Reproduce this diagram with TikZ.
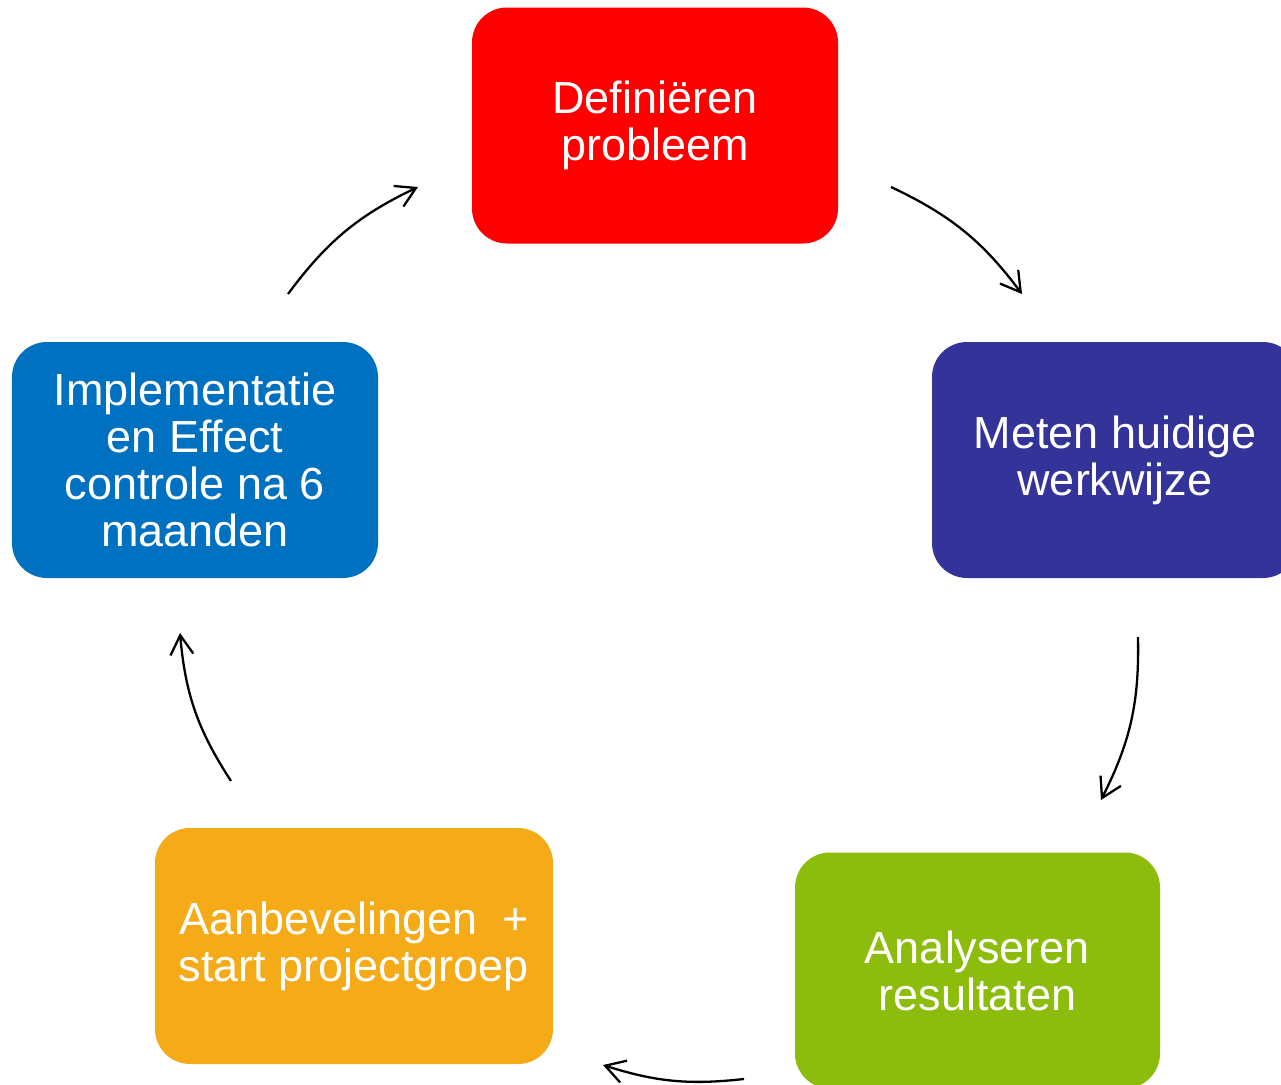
\documentclass[tikz,border=0pt]{standalone}
\usepackage{fontspec}
\setmainfont{Liberation Sans}
\usetikzlibrary{arrows.meta}
\definecolor{stapred}{HTML}{FF0000}
\definecolor{stappurple}{HTML}{333399}
\definecolor{stapgreen}{HTML}{8CBC0C}
\definecolor{staporange}{HTML}{F5AB18}
\definecolor{stapblue}{HTML}{0070C0}
\begin{document}
\begin{tikzpicture}[
    stap/.style={rounded corners=0.35cm,minimum width=3.66cm,minimum height=2.36cm,
      inner sep=0pt,text=white,align=center,font=\fontsize{12.8}{13.4}\selectfont}]
      \clip (0,0) rectangle (12.81,-10.85);
      \draw
        (6.55,-1.255) node[stap,fill=stapred] (def){Definiëren\\probleem}
        (11.15,-4.60) node[stap,fill=stappurple] (meten){Meten huidige\\werkwijze}
        (9.775,-9.705) node[stap,fill=stapgreen,minimum width=3.65cm] (analyse){Analyseren\\resultaten}
        (3.54,-9.46) node[stap,fill=staporange,minimum width=3.98cm] (advies){Aanbevelingen\ \ +\\start projectgroep}
        (1.95,-4.60) node[stap,fill=stapblue] (impl){Implementatie\\en Effect\\controle na 6\\maanden};
      \coordinate (a0) at (8.91,-1.87);  \coordinate (b0) at (10.22,-2.94);
      \coordinate (a1) at (11.38,-6.37); \coordinate (b1) at (11.01,-8.00);
      \coordinate (a2) at (7.44,-10.79); \coordinate (b2) at (6.03,-10.65);
      \coordinate (a3) at (2.31,-7.81);  \coordinate (b3) at (1.80,-6.33);
      \coordinate (a4) at (2.88,-2.94);  \coordinate (b4) at (4.18,-1.87);
      \begin{scope}[->,>={Straight Barb[length=5.5pt,width=6.5pt]},line width=0.65pt]
        \draw (a0) to[bend left=14] (b0);
        \draw (a1) to[bend left=14] (b1);
        \draw (a2) to[bend left=12] (b2);
        \draw (a3) to[bend left=14] (b3);
        \draw (a4) to[bend left=14] (b4);
      \end{scope}
    \end{tikzpicture}
\end{document}
